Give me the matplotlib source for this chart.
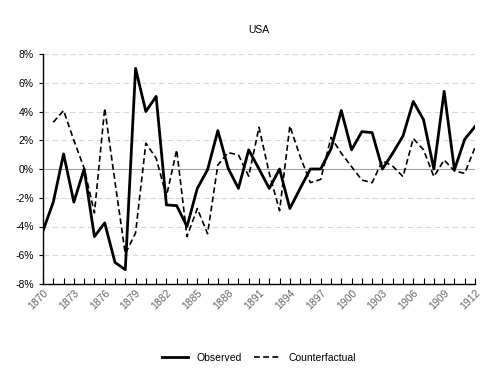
import matplotlib.pyplot as plt
from matplotlib.ticker import FuncFormatter, MultipleLocator
import numpy as np

plt.rcParams['font.family'] = ['Liberation Sans', 'DejaVu Sans']

years = list(range(1870, 1913))
observed = [-4.3, -2.3, 1.05, -2.3, 0.0, -4.7, -3.75, -6.5, -7.0, 7.0,
            4.0, 5.05, -2.5, -2.55, -4.0, -1.35, -0.05, 2.67, 0.05, -1.35,
            1.33, 0.0, -1.35, 0.0, -2.75, -1.35, 0.0, 0.0, 1.4, 4.07,
            1.33, 2.6, 2.53, 0.0, 1.1, 2.3, 4.7, 3.42, 0.0, 5.4,
            -0.05, 2.07, 2.95]
counterfactual = [np.nan, 3.25, 4.07, 2.0, 0.05, -3.05, 4.23, -0.9, -5.9, -4.45,
                  1.8, 0.75, -1.9, 1.33, -4.7, -2.75, -4.5, 0.28, 1.14, 0.98,
                  -0.5, 2.9, -0.3, -2.9, 3.0, 0.86, -0.95, -0.72, 2.2, 1.1,
                  0.16, -0.77, -0.95, 0.58, 0.2, -0.53, 2.12, 1.33, -0.53, 0.63,
                  -0.14, -0.3, 1.5]

fig = plt.figure(figsize=(5.0, 3.76), dpi=100)
ax = fig.add_axes([43 / 500, 1 - 284 / 376, 432 / 500, 230 / 376])

for v in range(-6, 9, 2):
    if v == 0:
        ax.axhline(v, color='#a0a0a0', lw=0.8, zorder=1)
    else:
        ax.axhline(v, color='#d8d8d8', lw=0.8, ls=(0, (5, 3)), zorder=1)

ax.plot(years, observed, color='black', lw=2.0, label='Observed', zorder=3)
ax.plot(years, counterfactual, color='black', lw=1.2, ls=(0, (3.5, 2)),
        label='Counterfactual', zorder=2)

ax.set_xlim(1870, 1912)
ax.set_ylim(-8, 8)
ax.yaxis.set_major_locator(MultipleLocator(2))
ax.yaxis.set_major_formatter(FuncFormatter(lambda v, p: f"{v:.0f}%"))
ax.set_xticks(list(range(1870, 1913, 3)))
ax.set_xticks(years, minor=True)
ax.tick_params(axis='x', which='both', direction='in', length=4, width=0.8,
               labelsize=7.5, labelcolor='#666666', pad=3)
ax.tick_params(axis='y', direction='out', length=3, width=0.8, labelsize=7.5)
for lbl in ax.get_xticklabels():
    lbl.set_rotation(45)
    lbl.set_ha('right')
    lbl.set_rotation_mode('anchor')

for side in ['top', 'right']:
    ax.spines[side].set_visible(False)
ax.spines['left'].set_linewidth(1.0)
ax.spines['bottom'].set_linewidth(1.0)

fig.text(259 / 500, 1 - 30 / 376, 'USA', ha='center', va='center', fontsize=7.5)
fig.legend(loc='center', bbox_to_anchor=(259 / 500, 1 - 358 / 376), ncol=2,
           frameon=False, fontsize=7.5, handlelength=2.5, columnspacing=1.2)

fig.savefig('out.png', dpi=100)
